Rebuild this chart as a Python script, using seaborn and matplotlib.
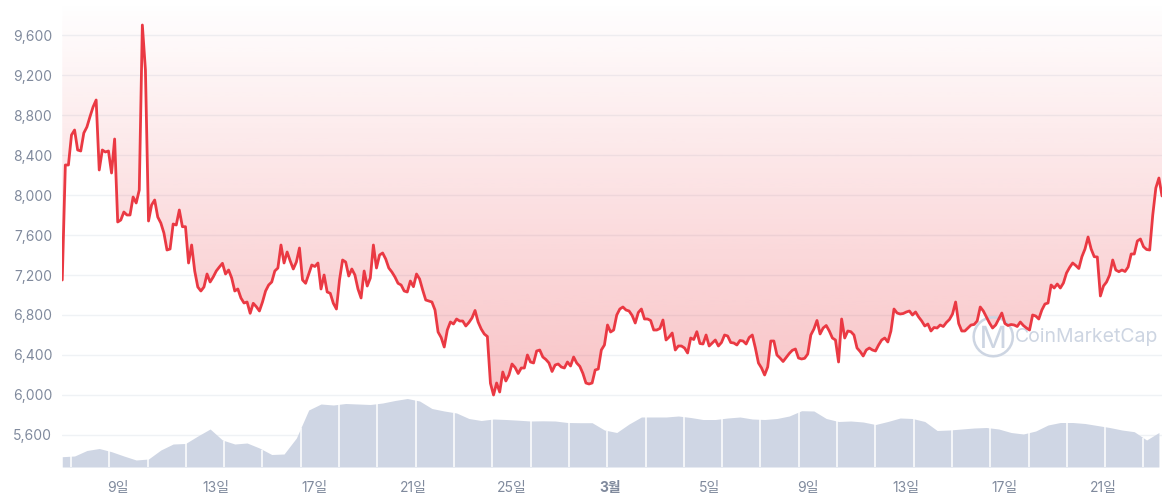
import numpy as np
import pandas as pd
import matplotlib
matplotlib.use('Agg')
import matplotlib.pyplot as plt
import matplotlib.dates as mdates
from matplotlib.patches import Polygon
from matplotlib.ticker import StrMethodFormatter
import seaborn as sns

# price, 3-hour steps from 2018-02-06 18:00
price = [
    7150, 8300, 8300, 8600, 8650, 8450, 8440, 8620, 8680, 8783,
    8880, 8950, 8250, 8450, 8430, 8440, 8220, 8560, 7730, 7750,
    7830, 7800, 7800, 7980, 7920, 8050, 9700, 9250, 7740, 7900,
    7950, 7780, 7720, 7620, 7450, 7460, 7710, 7700, 7850, 7683,
    7683, 7320, 7500, 7240, 7080, 7040, 7080, 7210, 7130, 7180,
    7240, 7280, 7317, 7210, 7250, 7170, 7040, 7060, 6970, 6920,
    6930, 6817, 6917, 6883, 6840, 6930, 7040, 7100, 7130, 7240,
    7270, 7500, 7320, 7430, 7340, 7260, 7330, 7470, 7150, 7117,
    7210, 7300, 7285, 7320, 7060, 7200, 7030, 7017, 6917, 6860,
    7150, 7350, 7330, 7190, 7260, 7200, 7060, 6970, 7240, 7090,
    7170, 7500, 7270, 7400, 7420, 7360, 7270, 7230, 7180, 7117,
    7100, 7040, 7030, 7140, 7083, 7210, 7160, 7050, 6950, 6940,
    6930, 6850, 6630, 6575, 6480, 6650, 6730, 6710, 6760, 6740,
    6740, 6690, 6725, 6770, 6845, 6730, 6660, 6610, 6585, 6117,
    6000, 6120, 6030, 6230, 6140, 6200, 6310, 6275, 6215, 6270,
    6270, 6400, 6330, 6320, 6440, 6450, 6380, 6355, 6320, 6235,
    6300, 6310, 6280, 6270, 6330, 6290, 6380, 6320, 6287, 6217,
    6120, 6110, 6120, 6250, 6260, 6450, 6500, 6700, 6630, 6650,
    6800, 6860, 6880, 6850, 6840, 6795, 6720, 6825, 6860, 6760,
    6760, 6745, 6650, 6650, 6665, 6750, 6550, 6580, 6620, 6450,
    6490, 6490, 6470, 6420, 6570, 6555, 6633, 6515, 6510, 6600,
    6490, 6520, 6550, 6490, 6525, 6600, 6590, 6525, 6520, 6500,
    6545, 6540, 6510, 6575, 6600, 6470, 6320, 6270, 6200, 6280,
    6540, 6540, 6400, 6370, 6335, 6375, 6415, 6447, 6460, 6370,
    6360, 6367, 6410, 6600, 6660, 6745, 6610, 6670, 6695, 6640,
    6570, 6550, 6330, 6760, 6570, 6640, 6633, 6600, 6470, 6435,
    6390, 6450, 6470, 6450, 6440, 6500, 6550, 6570, 6530, 6640,
    6860, 6820, 6810, 6815, 6830, 6840, 6800, 6830, 6780, 6740,
    6690, 6710, 6640, 6675, 6670, 6700, 6685, 6725, 6755, 6810,
    6930, 6715, 6640, 6640, 6670, 6700, 6705, 6740, 6880, 6840,
    6780, 6720, 6670, 6700, 6760, 6820, 6715, 6695, 6705, 6700,
    6685, 6730, 6695, 6670, 6650, 6800, 6790, 6760, 6850, 6910,
    6920, 7100, 7070, 7110, 7070, 7120, 7220, 7275, 7320, 7295,
    7265, 7383, 7460, 7580, 7460, 7383, 7380, 6990, 7090, 7130,
    7200, 7350, 7250, 7233, 7250, 7235, 7280, 7410, 7410, 7540,
    7560, 7483, 7455, 7450, 7800, 8070, 8170, 7990,
]
price_times = pd.date_range('2018-02-06 18:00', periods=len(price), freq='3h')

# relative volume, 12-hour steps
volume = [
    10.3, 11, 16.5, 18.5, 15.3, 11, 7, 8, 17, 23,
    23.5, 31, 38, 27, 23, 24, 19, 12.5, 13, 29,
    57, 63, 62, 63.5, 63, 62.5, 64, 66.5, 68.5, 66,
    58.5, 56, 54, 48.5, 46.5, 48, 47.5, 46.8, 46, 46.2,
    46, 44.5, 44.3, 44.3, 37, 34.5, 43, 50, 50, 50,
    51, 49.5, 47.5, 47.5, 49, 50, 48, 47.5, 48.5, 51,
    56.3, 56, 48.5, 45.5, 46, 45, 42.5, 45.5, 49, 48.5,
    45.5, 36.5, 37, 38, 39, 39.5, 38, 34.5, 33, 36,
    42, 44.5, 44.5, 43.5, 41.5, 39.5, 37, 35.3, 27, 34.5,
]
volume_times = pd.date_range('2018-02-06 18:00', periods=len(volume), freq='12h')

tick_dates = pd.to_datetime(['2018-02-09', '2018-02-13', '2018-02-17', '2018-02-21',
                             '2018-02-25', '2018-03-01', '2018-03-05', '2018-03-09',
                             '2018-03-13', '2018-03-17', '2018-03-21'])
tick_labels = ['9일', '13일', '17일', '21일', '25일', '3월', '5일', '9일', '13일', '17일', '21일']
y_ticks = [5600, 6000, 6400, 6800, 7200, 7600, 8000, 8400, 8800, 9200, 9600]

RED = '#ea3943'
GREY = '#808a9d'

sns.set_style('white')
plt.rcParams['font.family'] = ['Inter', 'Noto Sans CJK KR', 'DejaVu Sans']

fig = plt.figure(figsize=(11.62, 5.0), dpi=100)
ax = fig.add_axes([62 / 1162, 33 / 500, 1100 / 1162, 467 / 500])

x0 = pd.Timestamp('2018-02-06 17:45')
x1 = pd.Timestamp('2018-03-23 09:00')
ylo, yhi = 5280, 9950

# volume in an inset axes so it sits between the grid and the price line
ax_vol = ax.inset_axes([0, 0, 1, 1], zorder=1)
ax_vol.fill_between(volume_times, 0, volume, color='#cfd6e4', linewidth=0)
sep = pd.date_range('2018-02-07 02:30', x1, freq='2238min')
sep_h = np.interp(mdates.date2num(sep), mdates.date2num(volume_times), volume)
ax_vol.vlines(sep, 0, sep_h, color='white', linewidth=1.1)
ax_vol.set_xlim(x0, x1)
ax_vol.set_ylim(0, 467)
ax_vol.axis('off')

# gradient fill above the line
grad = np.zeros((256, 1, 4))
grad[:, 0, 0:3] = matplotlib.colors.to_rgb(RED)
grad[:, 0, 3] = np.linspace(0.0, 0.36, 256)
img = ax.imshow(grad, extent=[mdates.date2num(x0), mdates.date2num(x1), ylo, yhi],
                origin='upper', aspect='auto', zorder=1.5, interpolation='bilinear')
xn = mdates.date2num(price_times)
verts = np.column_stack([xn, price])
verts = np.vstack([verts, [xn[-1], yhi], [xn[0], yhi]])
clip = Polygon(verts, closed=True, transform=ax.transData)
img.set_clip_path(clip)

sns.lineplot(x=price_times, y=price, ax=ax, color=RED, linewidth=2.0, zorder=3)

ax.set_xlim(x0, x1)
ax.set_ylim(ylo, yhi)
ax.set_axisbelow(True)
ax.set_yticks(y_ticks)
ax.yaxis.set_major_formatter(StrMethodFormatter('{x:,.0f}'))
ax.grid(axis='y', color='#eff2f5', linewidth=1)
ax.grid(axis='x', visible=False)
ax.set_xticks(tick_dates)
ax.set_xticklabels(tick_labels)
for lab in ax.get_xticklabels():
    if lab.get_text() == '3월':
        lab.set_fontweight('bold')
        lab.set_color('#58667e')
ax.tick_params(axis='y', length=0, pad=7, labelsize=10, labelcolor=GREY)
ax.tick_params(axis='x', length=4, width=1, color='#a6b0c3', pad=6, labelsize=10, labelcolor=GREY)
for s in ax.spines.values():
    s.set_visible(False)
ax.set_xlabel('')
ax.set_ylabel('')

# watermark
ax.text(0.846, 0.281, 'Ⓜ', transform=ax.transAxes, fontsize=22, color='#cdd5e2',
        ha='center', va='center', zorder=2)
ax.text(0.866, 0.278, 'CoinMarketCap', transform=ax.transAxes, fontsize=14, color='#cdd5e2',
        ha='left', va='center', zorder=2)

fig.savefig('out.png', dpi=100)
